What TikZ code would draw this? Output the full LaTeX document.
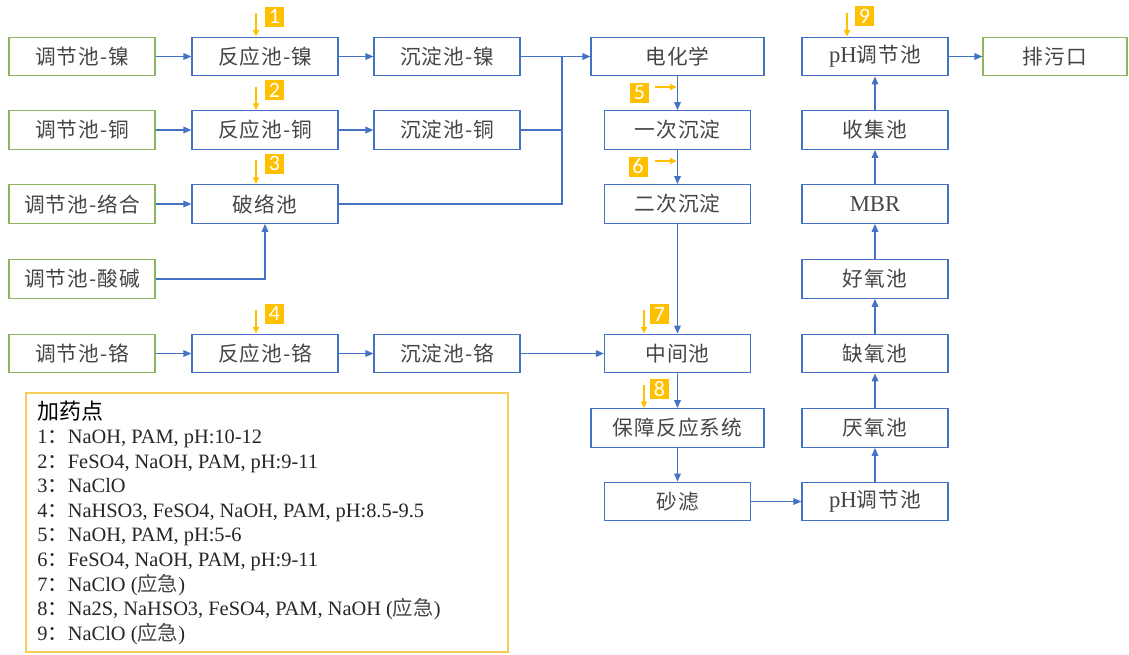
\documentclass[tikz,border=0pt]{standalone}
\usepackage{fontspec}
\setmainfont{Liberation Serif}
\newfontfamily\cjk[LetterSpace=5]{Noto Sans CJK SC}
\newfontfamily\cjklegend{Noto Sans CJK SC}
\newfontfamily\tagfont{Carlito}
\usetikzlibrary{arrows.meta}

\definecolor{boxblue}{HTML}{4472C4}
\definecolor{srcgreen}{HTML}{8DB45F}
\definecolor{tagorange}{HTML}{FFC000}
\definecolor{legline}{HTML}{F5CF5A}
\definecolor{txtgray}{HTML}{454545}

\tikzset{
    box/.style={draw=boxblue, line width=0.9pt, minimum width=109.5pt, minimum height=29pt,
        inner sep=0pt, text=txtgray, font=\cjk\fontsize{15.5}{18}\selectfont},
    srcbox/.style={box, draw=srcgreen},
    widebox/.style={box, minimum width=129.75pt},
    pipe/.style={draw=boxblue, line width=0.9pt},
    flow/.style={pipe, -{Triangle[length=6pt, width=5pt]}},
    tag/.style={fill=tagorange, text=white, font=\tagfont\fontsize{16.5}{16}\selectfont,
        minimum width=14.25pt, minimum height=15pt, inner sep=0pt},
    dose/.style={draw=tagorange, line width=0.9pt, -{Triangle[length=5pt, width=4.5pt]}},
}
\newcommand{\latin}[1]{{\rmfamily\fontsize{17}{18}\selectfont #1}}

\begin{document}
\begin{tikzpicture}[x=0.75pt, y=-0.75pt]

    \useasboundingbox (0,0) rectangle (1129,654);

    % Source tanks (left column)
    \node[srcbox] (tjNi) at (82,56.5) {调节池-镍};
    \node[srcbox] (tjCu) at (82,130) {调节池-铜};
    \node[srcbox] (tjLH) at (82,204) {调节池-络合};
    \node[srcbox] (tjSJ) at (82,279) {调节池-酸碱};
    \node[srcbox] (tjCr) at (82,353.5) {调节池-铬};

    % Reaction tanks
    \node[box] (fyNi) at (265,56.5) {反应池-镍};
    \node[box] (fyCu) at (265,130) {反应池-铜};
    \node[box] (pl) at (265,204) {破络池};
    \node[box] (fyCr) at (265,353.5) {反应池-铬};

    % Settling tanks
    \node[box] (cdNi) at (447,56.5) {沉淀池-镍};
    \node[box] (cdCu) at (447,130) {沉淀池-铜};
    \node[box] (cdCr) at (447,353.5) {沉淀池-铬};

    % Main line
    \node[widebox] (dhx) at (677.5,56.5) {电化学};
    \node[box] (cd1) at (677.5,130) {一次沉淀};
    \node[box] (cd2) at (677.5,204) {二次沉淀};
    \node[box] (zjc) at (677.5,353.5) {中间池};
    \node[widebox] (bz) at (677.5,428) {保障反应系统};
    \node[box] (sl) at (677.5,501.5) {砂滤};

    % Biological line
    \node[box] (ph2) at (875,501.5) {\latin{pH}调节池};
    \node[box] (yy) at (875,428) {厌氧池};
    \node[box] (qy) at (875,353.5) {缺氧池};
    \node[box] (hy) at (875,279) {好氧池};
    \node[box] (mbr) at (875,204) {\latin{MBR}};
    \node[box] (sj) at (875,130) {收集池};
    \node[box] (ph1) at (875,56.5) {\latin{pH}调节池};
    \node[srcbox, minimum width=108pt] (pwk) at (1055,56.5) {排污口};

    % Connectors
    \coordinate (bus) at (562,56.5);
    \draw[flow] (tjNi) -- (fyNi);
    \draw[flow] (fyNi) -- (cdNi);
    \draw[flow] (cdNi) -- (dhx);
    \draw[flow] (tjCu) -- (fyCu);
    \draw[flow] (fyCu) -- (cdCu);
    \draw[pipe] (cdCu.east) -| (bus);
    \draw[flow] (tjLH) -- (pl);
    \draw[pipe] (pl.east) -| (bus);
    \draw[flow] (tjSJ.east) -| (pl.south);
    \draw[flow] (tjCr) -- (fyCr);
    \draw[flow] (fyCr) -- (cdCr);
    \draw[flow] (cdCr) -- (zjc);

    \draw[flow] (dhx) -- (cd1);
    \draw[flow] (cd1) -- (cd2);
    \draw[flow] (cd2) -- (zjc);
    \draw[flow] (zjc) -- (bz);
    \draw[flow] (bz) -- (sl);
    \draw[flow] (sl) -- (ph2);
    \draw[flow] (ph2) -- (yy);
    \draw[flow] (yy) -- (qy);
    \draw[flow] (qy) -- (hy);
    \draw[flow] (hy) -- (mbr);
    \draw[flow] (mbr) -- (sj);
    \draw[flow] (sj) -- (ph1);
    \draw[flow] (ph1) -- (pwk);

    % Dosing points
    \node[tag] (t1) at (274.5,16.5) {1};
    \node[tag] (t2) at (274.5,90) {2};
    \node[tag] (t3) at (274.5,163.5) {3};
    \node[tag] (t4) at (274.5,313.5) {4};
    \node[tag] (t5) at (639.5,92.5) {5};
    \node[tag] (t6) at (638,166.5) {6};
    \node[tag] (t7) at (659.5,314) {7};
    \node[tag] (t8) at (659.5,389) {8};
    \node[tag] (t9) at (864.5,16) {9};

    \coordinate (d1) at (256,13);
    \coordinate (d2) at (256,87);
    \coordinate (d3) at (256,160);
    \coordinate (d4) at (256,310);
    \coordinate (d5) at (655,87);
    \coordinate (d6) at (655,161);
    \coordinate (d7) at (644,310);
    \coordinate (d8) at (644,385);
    \coordinate (d9) at (847,13);
    \draw[dose] (d1) -- (d1 |- fyNi.north);
    \draw[dose] (d2) -- (d2 |- fyCu.north);
    \draw[dose] (d3) -- (d3 |- pl.north);
    \draw[dose] (d4) -- (d4 |- fyCr.north);
    \draw[dose] (d5) -- ([xshift=-0.5pt]d5 -| dhx.south);
    \draw[dose] (d6) -- ([xshift=-0.5pt]d6 -| cd1.south);
    \draw[dose] (d7) -- (d7 |- zjc.north);
    \draw[dose] (d8) -- (d8 |- bz.north);
    \draw[dose] (d9) -- (d9 |- ph1.north);

    % Legend
    \draw[legline, line width=0.9pt] (26,393) rectangle (508,652);
    \node[anchor=base west, inner sep=0pt, font=\cjklegend\fontsize{16.5}{18}\selectfont, text=black]
        (legT) at (37,419) {加药点};
    \foreach \n/\txt [count=\i] in {1/{NaOH, PAM, pH:10-12},
            2/{FeSO4, NaOH, PAM, pH:9-11},
            3/{NaClO},
            4/{NaHSO3, FeSO4, NaOH, PAM, pH:8.5-9.5},
            5/{NaOH, PAM, pH:5-6},
            6/{FeSO4, NaOH, PAM, pH:9-11},
            7/{NaClO ({\cjklegend\color{txtgray}应急})},
            8/{Na2S, NaHSO3, FeSO4, PAM, NaOH ({\cjklegend\color{txtgray}应急})},
            9/{NaClO ({\cjklegend\color{txtgray}应急})}} {
        \node[anchor=base west, inner sep=0pt, font=\fontsize{15.3}{18}\selectfont, text=black!85]
            (leg\n) at (37,{443.5+24.6*(\i-1)}) {\n{\cjklegend ：}\txt};
    }

\end{tikzpicture}
\end{document}
